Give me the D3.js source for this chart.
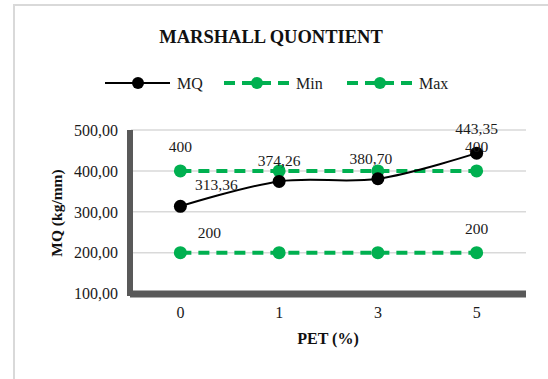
<!DOCTYPE html>
<html>
<head>
<meta charset="utf-8">
<script src="https://cdn.jsdelivr.net/npm/d3@7"></script>
<style>
  html, body { margin: 0; padding: 0; background: #fff; }
  svg { display: block; font-family: "Liberation Serif", "Times New Roman", serif; }
</style>
</head>
<body>
<svg id="chart" width="548" height="379"></svg>
<script>
// PET content (%) on the x axis
const categories = ["0", "1", "3", "5"];
// Marshall quotient (kg/mm) and specification limits
const mqValues  = [313.36, 374.26, 380.70, 443.35];
const minValues = [200, 200, 200, 200];
const maxValues = [400, 400, 400, 400];
const yTicks = [100, 200, 300, 400, 500];

const svg = d3.select("#chart");
const W = 548, H = 379;
const serif = "'Liberation Serif', 'Times New Roman', serif";

// outer chart frame
svg.append("rect").attr("x", 14).attr("y", 5).attr("width", W).attr("height", H)
  .attr("fill", "#fff").attr("stroke", "#d9d9d9").attr("stroke-width", 2);

const plot = { left: 131, right: 526, top: 130, bottom: 293.5 };

const x = d3.scaleBand().domain(categories).range([plot.left, plot.right]);
const y = d3.scaleLinear().domain([100, 500]).range([plot.bottom, plot.top]);
const cx = c => x(c) + x.bandwidth() / 2;

const fmt = v => d3.format(".2f")(v).replace(".", ",");

// gridlines
svg.append("g").selectAll("line").data(yTicks).join("line")
  .attr("x1", plot.left).attr("x2", plot.right)
  .attr("y1", d => y(d)).attr("y2", d => y(d))
  .attr("stroke", "#d9d9d9").attr("stroke-width", 1.5);

// y tick labels
const yAxis = d3.axisLeft(y).tickValues(yTicks).tickFormat(fmt).tickSize(0).tickPadding(13);
const yg = svg.append("g").attr("transform", `translate(${plot.left},0)`).call(yAxis);
yg.select(".domain").remove();
yg.selectAll("text").attr("font-size", 16).attr("fill", "#1a1a1a")
  .attr("font-family", serif).attr("dy", "0.33em");

// x tick labels
const xAxis = d3.axisBottom(x).tickSize(0);
const xg = svg.append("g").attr("transform", `translate(0,${plot.bottom})`).call(xAxis);
xg.select(".domain").remove();
xg.selectAll("text").attr("font-size", 16).attr("fill", "#1a1a1a")
  .attr("font-family", serif).attr("y", 318 - plot.bottom).attr("dy", 0);

// heavy axis bars
svg.append("rect").attr("x", 127).attr("y", plot.top).attr("width", 6).attr("height", 166)
  .attr("fill", "#595959");
svg.append("rect").attr("x", 130).attr("y", 290.5).attr("width", plot.right - 130).attr("height", 7)
  .attr("fill", "#595959");

const green = "#00b050";

// Min / Max dashed lines
[minValues, maxValues].forEach(vals => {
  svg.append("path")
    .attr("d", d3.line().x((d, i) => cx(categories[i])).y(d => y(d))(vals))
    .attr("fill", "none").attr("stroke", green).attr("stroke-width", 4)
    .attr("stroke-dasharray", "11,7");
  svg.append("g").selectAll("circle").data(vals).join("circle")
    .attr("cx", (d, i) => cx(categories[i])).attr("cy", d => y(d))
    .attr("r", 6.5).attr("fill", green);
});

// MQ smoothed line
svg.append("path")
  .attr("d", d3.line().x((d, i) => cx(categories[i])).y(d => y(d)).curve(d3.curveCatmullRom.alpha(0.5))(mqValues))
  .attr("fill", "none").attr("stroke", "#000").attr("stroke-width", 2);
svg.append("g").selectAll("circle").data(mqValues).join("circle")
  .attr("cx", (d, i) => cx(categories[i])).attr("cy", d => y(d))
  .attr("r", 6.5).attr("fill", "#000");

// data labels: [series values, index, dx, dy, text formatter]
const labelStyle = sel => sel.attr("font-size", 15.5).attr("fill", "#1a1a1a")
  .attr("font-family", serif).attr("text-anchor", "middle");
const labels = [
  [maxValues, 0, 0, -24, d => String(d)],
  [maxValues, 3, 0, -24, d => String(d)],
  [minValues, 0, 29, -20, d => String(d)],
  [minValues, 3, 0, -24, d => String(d)],
  [mqValues, 0, 36, -22, fmt],
  [mqValues, 1, 0, -21, fmt],
  [mqValues, 2, -7, -20, fmt],
  [mqValues, 3, 0, -25, fmt]
];
labels.forEach(([vals, i, dx, dy, f]) => {
  svg.append("text").call(labelStyle)
    .attr("x", cx(categories[i]) + dx).attr("y", y(vals[i]) + dy + 5.5)
    .text(f(vals[i]));
});

// title
svg.append("text").attr("x", 271).attr("y", 43).attr("text-anchor", "middle")
  .attr("font-family", serif).attr("font-size", 18.5).attr("font-weight", "bold").attr("fill", "#111")
  .text("MARSHALL QUONTIENT");

// axis titles
svg.append("text").attr("x", 328).attr("y", 344).attr("text-anchor", "middle")
  .attr("font-family", serif).attr("font-size", 16).attr("font-weight", "bold").attr("fill", "#111")
  .text("PET (%)");
svg.append("text").attr("transform", "translate(62,213) rotate(-90)").attr("text-anchor", "middle")
  .attr("font-family", serif).attr("font-size", 15.5).attr("font-weight", "bold").attr("fill", "#111")
  .text("MQ (kg/mm)");

// legend
const legendItems = [
  { name: "MQ", color: "#000", width: 2, dash: null, x0: 105 },
  { name: "Min", color: green, width: 4, dash: "11,7", x0: 224 },
  { name: "Max", color: green, width: 4, dash: "11,7", x0: 347 }
];
const ly = 83;
legendItems.forEach(it => {
  svg.append("line").attr("x1", it.x0).attr("x2", it.x0 + 65).attr("y1", ly).attr("y2", ly)
    .attr("stroke", it.color).attr("stroke-width", it.width)
    .attr("stroke-dasharray", it.dash);
  svg.append("circle").attr("cx", it.x0 + 33).attr("cy", ly).attr("r", 6).attr("fill", it.color);
  svg.append("text").attr("x", it.x0 + 72).attr("y", ly + 5.5)
    .attr("font-family", serif).attr("font-size", 16).attr("fill", "#1a1a1a").text(it.name);
});
</script>
</body>
</html>
